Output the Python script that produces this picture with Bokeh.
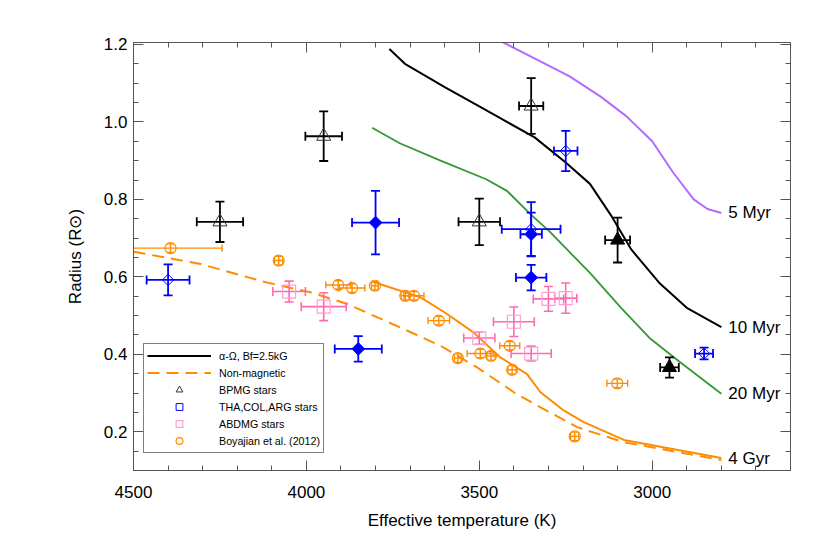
import numpy as np
from bokeh.plotting import figure
from bokeh.models import (ColumnDataSource, Range1d, LinearAxis, SingleIntervalTicker,
                          Legend, LegendItem, PrintfTickFormatter)
from bokeh.core.properties import value
from bokeh.embed import file_html
from bokeh.resources import INLINE

FONT = "Liberation Sans"

# ---------------- model tracks (Teff [K], Radius [Rsun]) ----------------
t_5myr = [3470, 3240, 3150, 3075, 3000, 2940, 2880, 2840, 2800]
r_5myr = [1.223, 1.118, 1.066, 1.015, 0.95, 0.87, 0.80, 0.775, 0.765]

t_10myr = [3760, 3715, 3600, 3500, 3420, 3340, 3250, 3180, 3120, 3060, 2980, 2900, 2800]
r_10myr = [1.188, 1.15, 1.09, 1.04, 1.00, 0.96, 0.895, 0.84, 0.76, 0.67, 0.585, 0.52, 0.47]

t_20myr = [3810, 3730, 3612, 3480, 3420, 3350, 3300, 3180, 3090, 3005, 2920, 2800]
r_20myr = [0.985, 0.945, 0.90, 0.852, 0.822, 0.76, 0.72, 0.61, 0.52, 0.44, 0.38, 0.298]

t_4gyr = [3810, 3670, 3593, 3516, 3439, 3362, 3323, 3256, 3198, 3082, 2800]
r_4gyr = [0.588, 0.547, 0.504, 0.456, 0.392, 0.349, 0.302, 0.255, 0.225, 0.179, 0.132]

t_nonmag = [4500, 4306, 4113, 3988, 3882, 3728, 3612, 3506, 3400, 3323, 3217, 3082, 2800]
r_nonmag = [0.665, 0.633, 0.585, 0.56, 0.53, 0.469, 0.422, 0.366, 0.302, 0.263, 0.212, 0.173, 0.127]

track_labels = ["5 Myr", "10 Myr", "20 Myr", "4 Gyr"]

# ---------------- stars ----------------
bp_open_T = [4250, 3950, 3500, 3350]
bp_open_R = [0.742, 0.963, 0.742, 1.041]
bp_open_dT = [67, 53, 60, 35]
bp_open_dR = [0.052, 0.064, 0.06, 0.072]

bp_fill_T = [3100, 2950]
bp_fill_R = [0.695, 0.366]
bp_fill_dT = [36, 27]
bp_fill_dR = [0.058, 0.026]

tha_open_T = [4400, 3250, 2850, 3350]
tha_open_R = [0.592, 0.925, 0.402, 0.723]
tha_open_dT = [62, 34, 26, 85]
tha_open_dR = [0.04, 0.052, 0.015, 0.07]

tha_fill_T = [3800, 3350, 3350, 3850]
tha_fill_R = [0.74, 0.71, 0.598, 0.414]
tha_fill_dT = [68, 31, 44, 68]
tha_fill_dR = [0.082, 0.056, 0.033, 0.033]

ab_T = [4050, 3950, 3500, 3400, 3350, 3300, 3250]
ab_R = [0.562, 0.523, 0.442, 0.484, 0.402, 0.543, 0.545]
ab_dT = [47, 65, 45, 59, 58, 44, 32]
ab_dR = [0.027, 0.036, 0.016, 0.038, 0.019, 0.032, 0.039]

boy_T = [4393, 4080, 3908, 3868, 3802, 3714, 3689, 3617, 3562, 3497, 3466, 3412, 3405, 3224, 3101]
boy_R = [0.674, 0.642, 0.579, 0.571, 0.577, 0.551, 0.551, 0.487, 0.39, 0.402, 0.396, 0.422, 0.36, 0.188, 0.325]
boy_dT = [149, 12, 36, 37, 10, 12, 29, 31, 10, 38, 12, 29, 12, 12, 30]
boy_dR = [0.011] * 15

BLACK = "#000000"
BLUE = "#0000ff"
PINK = "#ff69b4"
PINK_LIGHT = "#ff9fd0"
ORANGE = "#ff8c00"
GREEN = "#339933"
PURPLE = "#b36bff"
AXIS = "#555555"

p = figure(width=820, height=545, output_backend="svg", toolbar_location=None,
           x_range=Range1d(4500, 2600), y_range=Range1d(0.1, 1.205),
           min_border_left=133, min_border_right=30, min_border_top=42, min_border_bottom=75,
           x_axis_label="Effective temperature (K)", y_axis_label="Radius (R\u2299)")
p.grid.visible = False
p.outline_line_color = None
p.background_fill_color = "white"
p.border_fill_color = "white"

xt = SingleIntervalTicker(interval=500, num_minor_ticks=5)
yt = SingleIntervalTicker(interval=0.2, num_minor_ticks=4)


def style_axis(ax, ticker, show_labels=True):
    ax.ticker = ticker
    ax.axis_line_color = AXIS
    ax.axis_line_width = 1
    ax.major_tick_line_color = AXIS
    ax.minor_tick_line_color = AXIS
    ax.major_tick_in = 10
    ax.major_tick_out = 0
    ax.minor_tick_in = 5
    ax.minor_tick_out = 0
    ax.major_label_text_font = FONT
    ax.axis_label_text_font = FONT
    ax.axis_label_text_font_style = "normal"
    ax.axis_label_text_color = "black"
    ax.axis_label_text_font_size = "17px"
    if show_labels:
        ax.major_label_text_font_size = "17px"
        ax.major_label_text_color = "black"
    else:
        ax.major_label_text_font_size = "8px"
        ax.major_label_text_color = None
        ax.major_label_standoff = 0


style_axis(p.xaxis[0], xt)
style_axis(p.yaxis[0], yt)
p.yaxis[0].formatter = PrintfTickFormatter(format="%.1f")
p.xaxis[0].major_label_standoff = 15
p.xaxis[0].axis_label_standoff = 10
p.yaxis[0].major_label_standoff = 6
p.yaxis[0].axis_label_standoff = 16

top_ax = LinearAxis()
style_axis(top_ax, xt, show_labels=False)
p.add_layout(top_ax, "above")
right_ax = LinearAxis()
style_axis(right_ax, yt, show_labels=False)
p.add_layout(right_ax, "right")

# ---------------- tracks ----------------
p.line(t_5myr, r_5myr, line_color=PURPLE, line_width=2)
r10 = p.line(t_10myr, r_10myr, line_color=BLACK, line_width=2)
p.line(t_20myr, r_20myr, line_color=GREEN, line_width=1.8)
p.line(t_4gyr, r_4gyr, line_color=ORANGE, line_width=2)
rdash = p.line(t_nonmag, r_nonmag, line_color=ORANGE, line_width=2, line_dash="12 7")

lab_src = ColumnDataSource(dict(
    x=[t_5myr[-1], t_10myr[-1], t_20myr[-1], t_4gyr[-1]],
    y=[r_5myr[-1], r_10myr[-1], r_20myr[-1], r_4gyr[-1]],
    text=track_labels))
p.text(x="x", y="y", text="text", source=lab_src, x_offset=7, text_baseline="middle",
       text_align="left", text_font=value(FONT), text_font_size="17px", text_color="black")


def errorbars(T, R, dT, dR, color, lw, cap):
    src = ColumnDataSource(dict(
        x=T, y=R,
        xlo=[t - d for t, d in zip(T, dT)], xhi=[t + d for t, d in zip(T, dT)],
        ylo=[r - d for r, d in zip(R, dR)], yhi=[r + d for r, d in zip(R, dR)]))
    p.segment(x0="xlo", y0="y", x1="xhi", y1="y", source=src, line_color=color, line_width=lw)
    p.segment(x0="x", y0="ylo", x1="x", y1="yhi", source=src, line_color=color, line_width=lw)
    for col in ("xlo", "xhi"):
        p.scatter(x=col, y="y", source=src, marker="dash", angle=np.pi / 2, size=cap,
                  line_color=color, line_width=lw)
    for col in ("ylo", "yhi"):
        p.scatter(x="x", y=col, source=src, marker="dash", angle=0, size=cap,
                  line_color=color, line_width=lw)
    return src


# Boyajian
s_boy = errorbars(boy_T, boy_R, boy_dT, boy_dR, ORANGE, 1.4, 7)
r_boy = p.scatter(x="x", y="y", source=s_boy, marker="circle", size=11, fill_color=None,
                  line_color=ORANGE, line_width=1.2)

# ABDMG
s_ab = errorbars(ab_T, ab_R, ab_dT, ab_dR, PINK, 1.6, 9)
r_ab = p.scatter(x="x", y="y", source=s_ab, marker="square", size=13, fill_color=None,
                 line_color=PINK_LIGHT, line_width=1.2)

# THA, COL, ARG
s_tho = errorbars(tha_open_T, tha_open_R, tha_open_dT, tha_open_dR, BLUE, 1.8, 9)
r_tha = p.scatter(x="x", y="y", source=s_tho, marker="square", angle=np.pi / 4, size=8,
                  fill_color=None, line_color=BLUE, line_width=1)
s_thf = errorbars(tha_fill_T, tha_fill_R, tha_fill_dT, tha_fill_dR, BLUE, 1.8, 9)
p.scatter(x="x", y="y", source=s_thf, marker="square", angle=np.pi / 4, size=9,
          fill_color=BLUE, line_color=BLUE, line_width=1)

# BPMG
s_bpo = errorbars(bp_open_T, bp_open_R, bp_open_dT, bp_open_dR, BLACK, 1.8, 9)
r_bp = p.scatter(x="x", y="y", source=s_bpo, marker="triangle", size=14, fill_color=None,
                 line_color="#333333", line_width=1)
s_bpf = errorbars(bp_fill_T, bp_fill_R, bp_fill_dT, bp_fill_dR, BLACK, 1.8, 9)
p.scatter(x="x", y="y", source=s_bpf, marker="triangle", size=14, fill_color=BLACK,
          line_color=BLACK, line_width=1)

legend = Legend(items=[
    LegendItem(label="\u03b1-\u03a9, Bf=2.5kG", renderers=[r10]),
    LegendItem(label="Non-magnetic", renderers=[rdash]),
    LegendItem(label="BPMG stars", renderers=[r_bp]),
    LegendItem(label="THA,COL,ARG stars", renderers=[r_tha]),
    LegendItem(label="ABDMG stars", renderers=[r_ab]),
    LegendItem(label="Boyajian et al. (2012)", renderers=[r_boy]),
], location=(10, 17))
legend.margin = 0
legend.padding = 3
legend.spacing = 0
legend.glyph_height = 17
legend.label_height = 17
legend.glyph_width = 64
legend.label_standoff = 8
legend.label_text_font = FONT
legend.label_text_font_size = "10.7px"
legend.label_text_color = "black"
legend.border_line_color = "black"
legend.border_line_width = 1.5
legend.background_fill_color = "white"
legend.background_fill_alpha = 1.0
p.add_layout(legend)

open("out.html", "w").write(file_html(p, INLINE))
